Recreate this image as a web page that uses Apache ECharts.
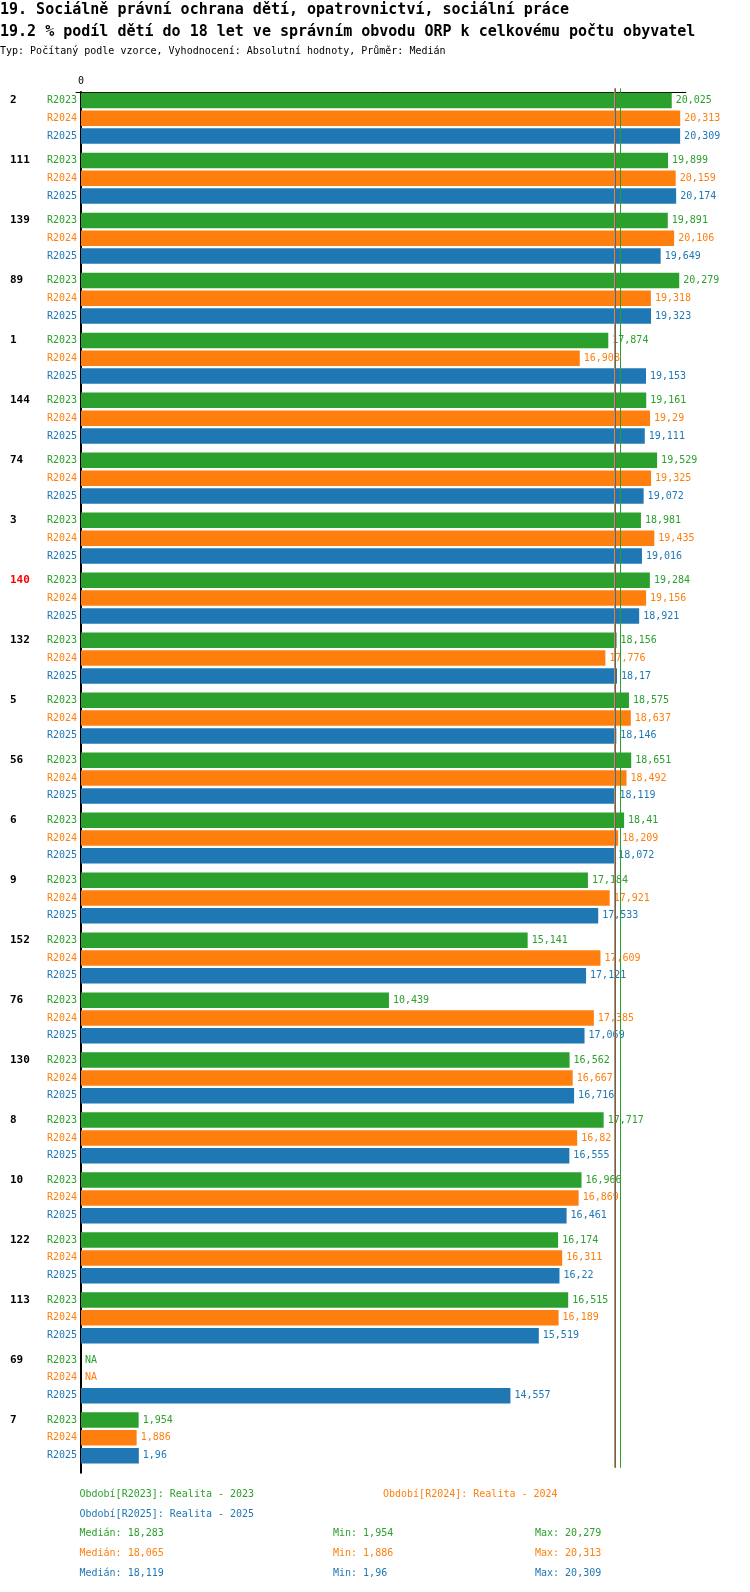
<!DOCTYPE html>
<html><head><meta charset="utf-8">
<script src="https://cdn.jsdelivr.net/npm/echarts@6/dist/echarts.min.js"></script>
<style>html,body{margin:0;padding:0;background:#fff}#c{width:750px;height:1592px}</style>
</head><body><div id="c"></div>
<script>
const titleLines = [
  '19. Sociálně právní ochrana dětí, opatrovnictví, sociální práce',
  '19.2 % podíl dětí do 18 let ve správním obvodu ORP k celkovému počtu obyvatel'
];
const subtitle = 'Typ: Počítaný podle vzorce, Vyhodnocení: Absolutní hodnoty, Průměr: Medián';
const groups = ['2','111','139','89','1','144','74','3','140','132','5','56','6','9','152','76','130','8','10','122','113','69','7'];
const highlighted = ['140'];
const periods = ['R2023','R2024','R2025'];
const periodNames = ['Realita - 2023','Realita - 2024','Realita - 2025'];
const r2023 = [20.025,19.899,19.891,20.279,17.874,19.161,19.529,18.981,19.284,18.156,18.575,18.651,18.41,17.184,15.141,10.439,16.562,17.717,16.966,16.174,16.515,null,1.954];
const r2024 = [20.313,20.159,20.106,19.318,16.908,19.29,19.325,19.435,19.156,17.776,18.637,18.492,18.209,17.921,17.609,17.385,16.667,16.82,16.869,16.311,16.189,null,1.886];
const r2025 = [20.309,20.174,19.649,19.323,19.153,19.111,19.072,19.016,18.921,18.17,18.146,18.119,18.072,17.533,17.121,17.069,16.716,16.555,16.461,16.22,15.519,14.557,1.96];
const medians = [18.283, 18.065, 18.119];
const mins = [1.954, 1.886, 1.96];
const maxs = [20.279, 20.313, 20.309];
const colors = ['#2ca02c','#ff7f0e','#1f77b4'];

const FONT = '"DejaVu Sans Mono", "Liberation Mono", monospace';
const fmt = v => String(v).replace('.', ',');
const values = [r2023, r2024, r2025];
const XMAX = 20.5;
const PX = 29.5;

const series = [];
periods.forEach((p, i) => {
  const common = {
    type: 'bar', stack: 's' + i, xAxisIndex: 0, yAxisIndex: 0,
    barWidth: 15.5, barGap: '15%', silent: true,
    itemStyle: { color: colors[i] }
  };
  series.push(Object.assign({}, common, {
    name: p + ' label',
    data: groups.map(() => 0),
    label: { show: true, position: 'left', distance: 4, formatter: p,
      color: colors[i], fontFamily: FONT, fontSize: 10 }
  }));
  series.push(Object.assign({}, common, {
    name: p,
    data: values[i].map(v => v == null ? { value: 0, label: { formatter: 'NA' } } : v),
    label: { show: true, position: 'right', distance: 4,
      formatter: q => fmt(q.value),
      color: colors[i], fontFamily: FONT, fontSize: 10 },
    markLine: {
      silent: true, symbol: 'none', animation: false,
      label: { show: false },
      lineStyle: { color: colors[i], width: 1, type: 'solid', opacity: 1 },
      data: [{ xAxis: medians[i] }]
    }
  }));
});

const graphics = [];
titleLines.forEach((t, k) => graphics.push({ type: 'text', x: 0, y: [10, 31.7][k],
  style: { text: t, fill: '#000', fontFamily: FONT, fontSize: 15, fontWeight: 'bold', verticalAlign: 'middle' } }));
graphics.push({ type: 'text', x: 0, y: 51.7,
  style: { text: subtitle, fill: '#000', fontFamily: FONT, fontSize: 10, verticalAlign: 'middle' } });
const legendPos = [[79.5, 1494.3], [383, 1494.3], [79.5, 1514]];
periods.forEach((p, i) => graphics.push({ type: 'text', x: legendPos[i][0], y: legendPos[i][1],
  style: { text: 'Období[' + p + ']: ' + periodNames[i], fill: colors[i], fontFamily: FONT, fontSize: 10, verticalAlign: 'middle' } }));
const statY = [1533.5, 1553.5, 1573.5];
periods.forEach((p, i) => {
  [['Medián: ' + fmt(medians[i]), 79.5], ['Min: ' + fmt(mins[i]), 333], ['Max: ' + fmt(maxs[i]), 535]].forEach(([t, x]) =>
    graphics.push({ type: 'text', x: x, y: statY[i],
      style: { text: t, fill: colors[i], fontFamily: FONT, fontSize: 10, verticalAlign: 'middle' } }));
});

const chart = echarts.init(document.getElementById('c'), null, { renderer: 'canvas' });
chart.setOption({
  animation: false,
  backgroundColor: '#fff',
  grid: [
    { left: 81, top: 88.3, width: XMAX * PX, height: 1379.5 },
    { left: 76, top: 92, width: XMAX * PX + 5, height: 1380.7 }
  ],
  xAxis: [
    { gridIndex: 0, type: 'value', min: 0, max: XMAX, position: 'top', offset: -3.7,
      axisLine: { show: false }, axisTick: { show: false }, splitLine: { show: false },
      axisLabel: { show: true, margin: 6, showMinLabel: true, formatter: v => v === 0 ? '0' : '', color: '#000', fontFamily: FONT, fontSize: 10 } },
    { gridIndex: 1, type: 'value', min: -5 / PX, max: XMAX, position: 'top',
      axisLine: { show: true, lineStyle: { color: '#000', width: 1 } },
      axisTick: { show: false }, splitLine: { show: false }, axisLabel: { show: false } }
  ],
  yAxis: [
    { gridIndex: 0, type: 'category', data: groups, inverse: true,
      axisLine: { show: false }, axisTick: { show: false }, splitLine: { show: false },
      axisLabel: { show: true, interval: 0, showMinLabel: true, showMaxLabel: true, hideOverlap: false,
        align: 'left', margin: 71, lineHeight: 35.7,
        formatter: v => v + '\n ',
        fontFamily: FONT, fontSize: 11, fontWeight: 'bold',
        color: v => highlighted.includes(v) ? '#ff0000' : '#000' } },
    { gridIndex: 1, type: 'category', data: groups, inverse: true, offset: -5,
      axisLine: { show: true, lineStyle: { color: '#000', width: 2 } },
      axisTick: { show: false }, axisLabel: { show: false }, splitLine: { show: false } }
  ],
  series: series,
  graphic: graphics
});
</script></body></html>
